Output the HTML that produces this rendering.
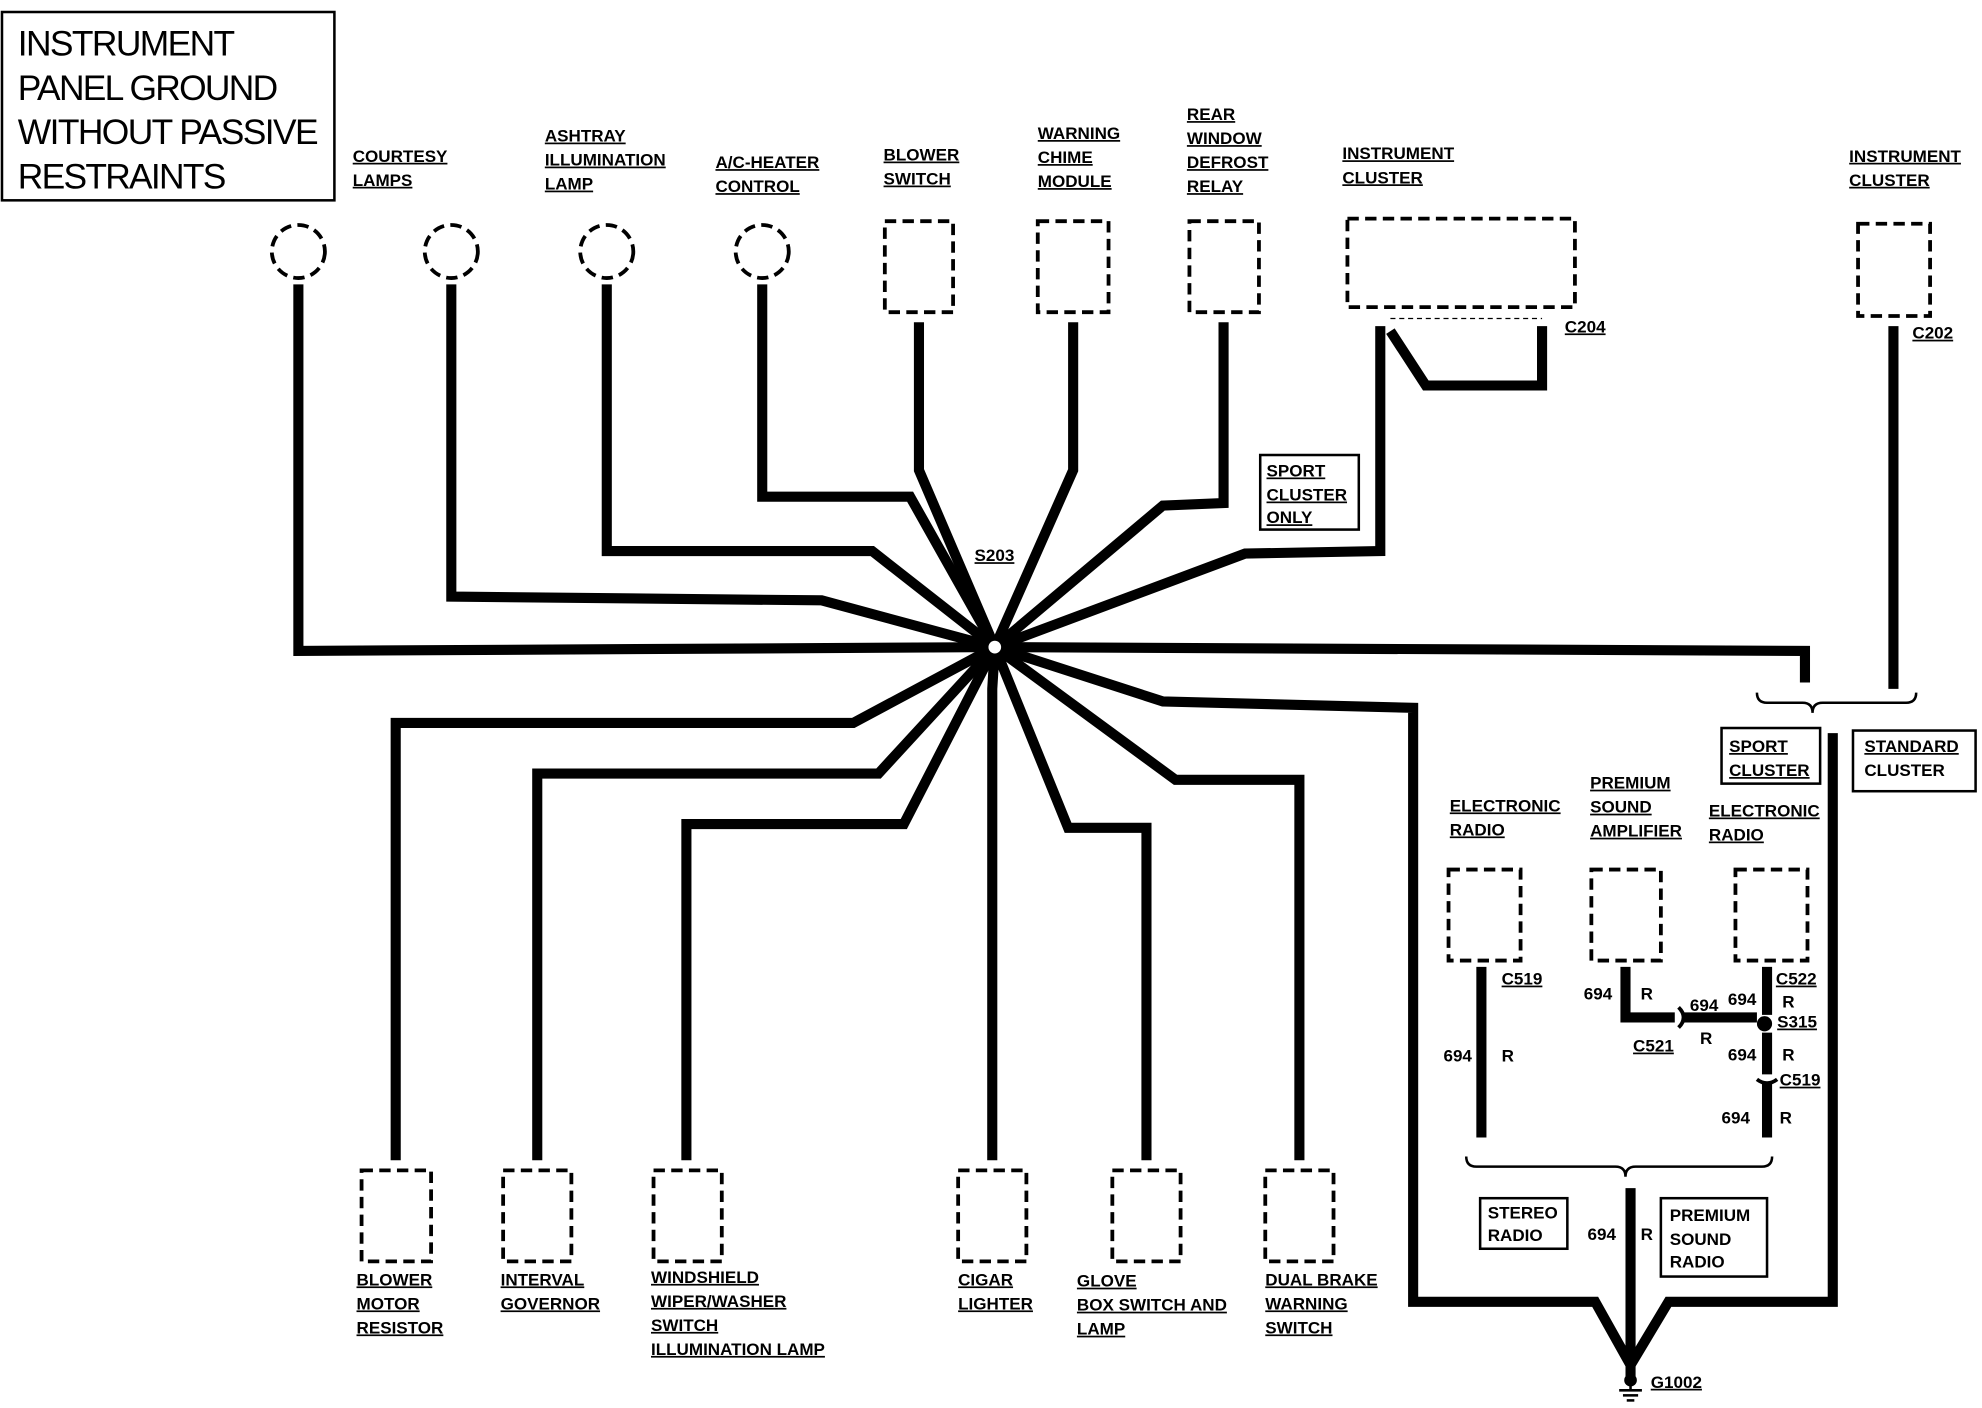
<!DOCTYPE html>
<html><head><meta charset="utf-8"><style>
html,body{margin:0;padding:0;background:#fff;}
svg{display:block}
text{font-family:"Liberation Sans",sans-serif;font-weight:bold;font-size:13.5px;fill:#000;text-decoration:underline}
.t{font-size:28px;font-weight:normal;text-decoration:none}
.n{text-decoration:none}
</style></head><body>
<svg width="1982" height="1408" viewBox="0 0 1568 1114" xmlns="http://www.w3.org/2000/svg">
<rect x="0" y="0" width="1568" height="1114" fill="#fff"/>
<rect x="1.5" y="9.5" width="263" height="149" fill="none" stroke="#000" stroke-width="2"/>
<text class="t" x="14" y="44" textLength="172">INSTRUMENT</text>
<text class="t" x="14" y="79" textLength="206">PANEL GROUND</text>
<text class="t" x="14" y="114" textLength="238">WITHOUT PASSIVE</text>
<text class="t" x="14" y="149" textLength="165">RESTRAINTS</text>

<g fill="none" stroke="#000" stroke-width="3" stroke-dasharray="9,5">
<circle cx="236" cy="199" r="21"/><circle cx="357" cy="199" r="21"/>
<circle cx="480" cy="199" r="21"/><circle cx="603" cy="199" r="21"/>
<rect x="700" y="175" width="54" height="72"/><rect x="821" y="175" width="56" height="72"/>
<rect x="941" y="175" width="55" height="72"/><rect x="1066" y="173" width="180" height="70"/>
<rect x="1470" y="177" width="57" height="73"/>
<rect x="286" y="926" width="55" height="72"/><rect x="398" y="926" width="54" height="72"/>
<rect x="517" y="926" width="54" height="72"/><rect x="758" y="926" width="54" height="72"/>
<rect x="880" y="926" width="54" height="72"/><rect x="1001" y="926" width="54" height="72"/>
<rect x="1146" y="688" width="57" height="72"/><rect x="1259" y="688" width="55" height="72"/>
<rect x="1373" y="688" width="57" height="72"/>
</g>
<line x1="1100" y1="252" x2="1220" y2="252" stroke="#000" stroke-width="1" stroke-dasharray="4,3"/>

<g fill="none" stroke="#000" stroke-width="8" stroke-linejoin="miter">
<polyline points="236,225 236,515 787,512"/>
<polyline points="357,225 357,472 650,475 787,512"/>
<polyline points="480,225 480,436 690,436 787,512"/>
<polyline points="603,225 603,393 720,393 787,512"/>
<polyline points="727,255 727,372 787,512"/>
<polyline points="849,255 849,372 787,512"/>
<polyline points="968,255 968,398 920,400 787,512"/>
<polyline points="1092,258 1092,436 985,438 787,512"/>
<polyline points="1100,262 1128,305 1220,305 1220,258"/>
<polyline points="1498,258 1498,545"/>
<polyline points="787,512 1428,515 1428,540"/>
<polyline points="787,512 920,555 1118,560 1118,1030 1262,1030 1290,1080 1320,1030 1450,1030 1450,580"/>
<polyline points="313,918 313,572 675,572 787,512"/>
<polyline points="425,918 425,612 695,612 787,512"/>
<polyline points="543,918 543,652 715,652 787,512"/>
<polyline points="785,918 785,545 787,512"/>
<polyline points="907,918 907,655 845,655 787,512"/>
<polyline points="1028,918 1028,617 930,617 787,512"/>
<polyline points="1172,765 1172,900"/>
<polyline points="1286,765 1286,805 1325,805"/>
<polyline points="1332,805 1390,805"/>
<polyline points="1398,765 1398,803"/>
<polyline points="1398,817 1398,850"/>
<polyline points="1398,857 1398,900"/>
<polyline points="1290,940 1290,1080"/>
<polyline points="1290,1080 1290,1090"/>
</g>
<circle cx="787" cy="512" r="7" fill="#fff" stroke="#000" stroke-width="4"/>
<circle cx="1396" cy="810" r="6" fill="#000"/>
<path d="M1328,797 q8,8 0,16 M1390,854 q8,6 16,0" stroke="#000" stroke-width="3" fill="none"/>
<g stroke="#000" stroke-width="2" fill="none">
<path d="M1390,548 q0,8 8,8 h28 q8,0 8,8 q0,-8 8,-8 h66 q8,0 8,-8"/>
<path d="M1160,915 q0,8 8,8 h110 q8,0 8,8 q0,-8 8,-8 h100 q8,0 8,-8"/>
<line x1="1290" y1="1092" x2="1290" y2="1100"/><line x1="1281" y1="1100" x2="1299" y2="1100"/>
<line x1="1284" y1="1104" x2="1296" y2="1104"/><line x1="1287" y1="1108" x2="1293" y2="1108"/>
<rect x="997" y="360" width="78" height="59"/>
<rect x="1362" y="576" width="78" height="44"/>
<rect x="1466" y="578" width="97" height="48"/>
<rect x="1171" y="948" width="69" height="40"/>
<rect x="1314" y="948" width="84" height="62"/>
</g>
<circle cx="1290" cy="1092" r="5" fill="#000"/>

<text x="279" y="128">COURTESY</text><text x="279" y="147">LAMPS</text>
<text x="431" y="112">ASHTRAY</text><text x="431" y="131">ILLUMINATION</text><text x="431" y="150">LAMP</text>
<text x="566" y="133">A/C-HEATER</text><text x="566" y="152">CONTROL</text>
<text x="699" y="127">BLOWER</text><text x="699" y="146">SWITCH</text>
<text x="821" y="110">WARNING</text><text x="821" y="129">CHIME</text><text x="821" y="148">MODULE</text>
<text x="939" y="95">REAR</text><text x="939" y="114">WINDOW</text><text x="939" y="133">DEFROST</text><text x="939" y="152">RELAY</text>
<text x="1062" y="126">INSTRUMENT</text><text x="1062" y="145">CLUSTER</text>
<text x="1463" y="128">INSTRUMENT</text><text x="1463" y="147">CLUSTER</text>
<text x="1238" y="263">C204</text><text x="1513" y="268">C202</text>
<text x="1002" y="377">SPORT</text><text x="1002" y="396">CLUSTER</text><text x="1002" y="414">ONLY</text>
<text x="771" y="444">S203</text>
<text x="1368" y="595">SPORT</text><text x="1368" y="614">CLUSTER</text>
<text x="1475" y="595">STANDARD</text><text x="1475" y="614" class="n">CLUSTER</text>
<text x="1147" y="642">ELECTRONIC</text><text x="1147" y="661">RADIO</text>
<text x="1258" y="624">PREMIUM</text><text x="1258" y="643">SOUND</text><text x="1258" y="662">AMPLIFIER</text>
<text x="1352" y="646">ELECTRONIC</text><text x="1352" y="665">RADIO</text>
<text x="1188" y="779">C519</text><text x="1405" y="779">C522</text>
<text x="1406" y="813">S315</text><text x="1408" y="859">C519</text><text x="1292" y="832">C521</text>
<text class="n" x="1253" y="791">694</text><text class="n" x="1298" y="791">R</text>
<text class="n" x="1337" y="800">694</text><text class="n" x="1345" y="826">R</text>
<text class="n" x="1367" y="795">694</text><text class="n" x="1410" y="797">R</text>
<text class="n" x="1367" y="839">694</text><text class="n" x="1410" y="839">R</text>
<text class="n" x="1362" y="889">694</text><text class="n" x="1408" y="889">R</text>
<text class="n" x="1142" y="840">694</text><text class="n" x="1188" y="840">R</text>
<text class="n" x="1256" y="981">694</text><text class="n" x="1298" y="981">R</text>
<text class="n" x="1177" y="964">STEREO</text><text class="n" x="1177" y="982">RADIO</text>
<text class="n" x="1321" y="966">PREMIUM</text><text class="n" x="1321" y="985">SOUND</text><text class="n" x="1321" y="1003">RADIO</text>
<text x="1306" y="1098">G1002</text>
<text x="282" y="1017">BLOWER</text><text x="282" y="1036">MOTOR</text><text x="282" y="1055">RESISTOR</text>
<text x="396" y="1017">INTERVAL</text><text x="396" y="1036">GOVERNOR</text>
<text x="515" y="1015">WINDSHIELD</text><text x="515" y="1034">WIPER/WASHER</text><text x="515" y="1053">SWITCH</text><text x="515" y="1072">ILLUMINATION LAMP</text>
<text x="758" y="1017">CIGAR</text><text x="758" y="1036">LIGHTER</text>
<text x="852" y="1018">GLOVE</text><text x="852" y="1037">BOX SWITCH AND</text><text x="852" y="1056">LAMP</text>
<text x="1001" y="1017">DUAL BRAKE</text><text x="1001" y="1036">WARNING</text><text x="1001" y="1055">SWITCH</text>
</svg>
</body></html>
